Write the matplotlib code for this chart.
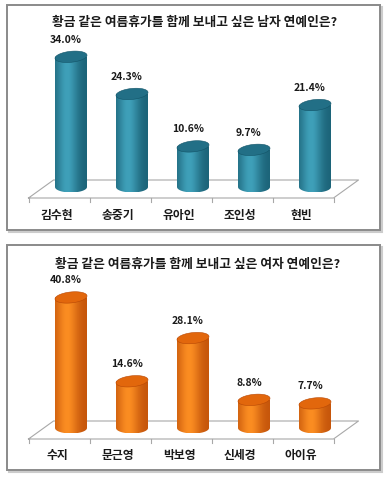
import numpy as np
import matplotlib
matplotlib.use('Agg')
import matplotlib.pyplot as plt
from matplotlib.patches import Polygon, PathPatch, Rectangle
from matplotlib.path import Path
from matplotlib.colors import LinearSegmentedColormap

plt.rcParams['font.family'] = ['Noto Sans CJK KR', 'DejaVu Sans']

# ---- data ----
title_male = '황금 같은 여름휴가를 함께 보내고 싶은 남자 연예인은?'
male_names = ['김수현', '송중기', '유아인', '조인성', '현빈']
male_values = [34.0, 24.3, 10.6, 9.7, 21.4]

title_female = '황금 같은 여름휴가를 함께 보내고 싶은 여자 연예인은?'
female_names = ['수지', '문근영', '박보영', '신세경', '아이유']
female_values = [40.8, 14.6, 28.1, 8.8, 7.7]

W, H = 389, 480
fig = plt.figure(figsize=(W / 100, H / 100), dpi=100)
fig.patch.set_facecolor('white')

# background overlay in pixel coordinates for frames
bg = fig.add_axes([0, 0, 1, 1])
bg.set_xlim(0, W)
bg.set_ylim(H, 0)
bg.axis('off')
for (x0, y0, x1, y1) in [(7, 5, 380, 230), (7, 245, 380, 470)]:
    bg.add_patch(Rectangle((x0 + 2, y0 + 2), x1 - x0, y1 - y0, facecolor='none',
                           edgecolor='#cccccc', lw=1.5, zorder=0))
    bg.add_patch(Rectangle((x0, y0), x1 - x0, y1 - y0, facecolor='white',
                           edgecolor='#8a8a8a', lw=1.4, zorder=1))

PX_X = 61.0  # pixels per category
X0_PX = 71.0  # pixel x of first bar


def panel(title, names, values, base_px, scale, ymin, ymax, title_y, title_x,
          light, dark, topc):
    ax = fig.add_axes([(X0_PX - PX_X) / W, 1 - (base_px - scale * ymin) / H,
                       6 * PX_X / W, scale * (ymax - ymin) / H])
    ax.set_xlim(-1, 5)
    ax.set_ylim(ymin, ymax)
    ax.axis('off')
    ux = 1.0 / PX_X      # data units per pixel (x)
    uy = 1.0 / scale     # data units per pixel (y)

    # floor
    fl, fr = -0.5 - 12 * ux, 4.5 - 12 * ux
    fy = -11 * uy
    by = 7 * uy
    dx = 25 * ux
    floor = [(fl, fy), (fl + dx, by), (fr + dx, by), (fr, fy), (fl, fy)]
    fx_, fy_ = zip(*floor)
    ax.plot(fx_, fy_, color='#a8a8a8', lw=0.8, zorder=1, clip_on=False)
    for k in range(len(names) + 1):
        xt = fl + k
        ax.plot([xt, xt], [fy, fy - 4 * uy], color='#a8a8a8', lw=0.8,
                zorder=1, clip_on=False)

    cmap = LinearSegmentedColormap.from_list('c', [dark, light])
    t = np.linspace(0, 1, 64)
    prof = np.exp(-((t - 0.38) / 0.34) ** 2)
    prof = 0.18 + 0.82 * prof
    grad = prof[np.newaxis, :]

    hw = 16 * ux          # half width
    eh = 5.5 * uy          # ellipse half height
    skew = 1.5 * uy / hw  # slight tilt
    th = np.linspace(np.pi, 2 * np.pi, 40)
    for i, v in enumerate(values):
        verts = [(i - hw, v)]
        verts += [(i + hw * np.cos(a), eh * np.sin(a)) for a in th]
        verts += [(i + hw, v), (i - hw, v)]
        path = Path(verts)
        patch = PathPatch(path, facecolor='none', edgecolor='none', zorder=2)
        ax.add_patch(patch)
        im = ax.imshow(grad, extent=(i - hw, i + hw, -eh, v), aspect='auto',
                       cmap=cmap, vmin=0, vmax=1, zorder=2, interpolation='bilinear')
        im.set_clip_path(patch)
        ang = np.linspace(0, 2 * np.pi, 80)
        ex = i + hw * np.cos(ang)
        ey = v + eh * np.sin(ang) + skew * (hw * np.cos(ang))
        ax.add_patch(Polygon(np.column_stack([ex, ey]), closed=True,
                             facecolor=topc, edgecolor=dark, lw=0.4, zorder=3))
        ax.annotate(f'{v:.1f}%', (i, v), xytext=(-5 * 0.72, 17 * 0.72),
                    textcoords='offset points', ha='center', va='center',
                    fontsize=7.5, fontweight='bold', color='#1a1a1a')
        ax.annotate(names[i], (i, 0), xytext=(-14 * 0.72, -28 * 0.72),
                    textcoords='offset points', ha='center', va='center',
                    fontsize=8.5, fontweight='bold', color='#1a1a1a')
    ax.set_xlim(-1, 5)
    ax.set_ylim(ymin, ymax)
    fig.text(title_x / W, 1 - title_y / H, title, ha='center', va='center',
             fontsize=9.2, fontweight='bold', color='#1a1a1a')


panel(title_male, male_names, male_values, 187, 3.83, -8, 40, 22, 195,
      '#3fa0b9', '#135468', '#226f86')
panel(title_female, female_names, female_values, 428, 3.2, -9, 48, 264, 198,
      '#fb8d22', '#b84805', '#e2670c')

fig.savefig('out.png', dpi=100, facecolor='white')
